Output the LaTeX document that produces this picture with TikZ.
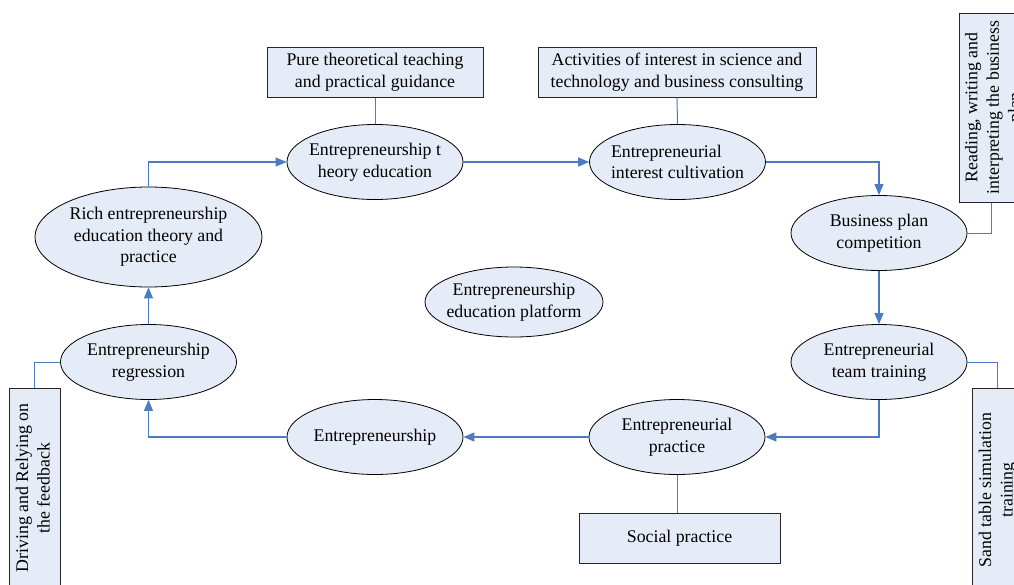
\documentclass[tikz,border=0pt]{standalone}
\usepackage{fontspec}
\setmainfont{Liberation Serif}
\usetikzlibrary{shapes.geometric,arrows.meta}
\definecolor{fillc}{HTML}{E6ECF7}
\definecolor{linec}{HTML}{4A7CC4}
\begin{document}
\begin{tikzpicture}[x=1pt,y=-1pt,
  font=\fontsize{17.8}{21.5}\selectfont,
  ell/.style={ellipse,draw=black,fill=fillc,line width=0.8pt,
    inner xsep=-20pt,inner ysep=-5pt,align=center,
    minimum width=176pt,minimum height=75pt},
  box/.style={rectangle,draw=black!85,fill=fillc,line width=1pt,
    inner sep=0pt,align=center},
  flow/.style={draw=linec,line width=1.1pt,-{Triangle[length=11pt,width=9pt]}},
  link/.style={draw=linec,line width=1pt}]
\useasboundingbox (0,0) rectangle (1014,584);
\clip (0,0) rectangle (1014,584);
\fill[white] (0,0) rectangle (1014,584);

% ellipses
\node[ell] (e1) at (375,162) {Entrepreneurship t\\heory education};
\node[ell,align=left] (e2) at (677.5,162) {Entrepreneurial\\interest cultivation};
\node[ell] (e3) at (879,233) {Business plan\\competition};
\node[ell] (e4) at (879,362) {Entrepreneurial\\team training};
\node[ell] (e5) at (677,437) {Entrepreneurial\\practice};
\node[ell] (e6) at (375,437) {Entrepreneurship};
\node[ell] (e7) at (148.5,362) {Entrepreneurship\\regression};
\node[ell,minimum width=227pt,minimum height=100pt] (e8) at (148.5,237) {Rich entrepreneurship\\education theory and\\practice};
\node[ell,minimum width=178pt,minimum height=70pt] (e9) at (514,302) {Entrepreneurship\\education platform};

% boxes
\node[box,minimum width=216pt,minimum height=50pt] (b1) at (375,72) {Pure theoretical teaching\\and practical guidance};
\node[box,minimum width=278pt,minimum height=50pt] (b2) at (677,72) {Activities of interest in science and\\technology and business consulting};
\node[box,minimum width=201pt,minimum height=50pt] (b6) at (679.5,538) {Social practice};
\node[box,minimum width=71pt,minimum height=189pt] (b3) at (994.5,107.5)
  {\rotatebox{90}{\begin{tabular}{@{}c@{}}Reading, writing and\\interpreting the business\\plan\end{tabular}}};
\node[box,minimum width=51pt,minimum height=204pt] (b4) at (997.5,490)
  {\rotatebox{90}{\begin{tabular}{@{}c@{}}Sand table simulation\\training\end{tabular}}};
\node[box,minimum width=51pt,minimum height=200pt] (b5) at (34.5,488)
  {\rotatebox{90}{\begin{tabular}{@{}c@{}}Driving and Relying on\\the feedback\end{tabular}}};

% flow arrows
\draw[flow] (e8.north) |- (e1.west);
\draw[flow] (e1.east) -- (e2.west);
\draw[flow] (e2.east) -| (e3.north);
\draw[flow] (e3.south) -- (e4.north);
\draw[flow] (e4.south) |- (e5.east);
\draw[flow] (e5.west) -- (e6.east);
\draw[flow] (e6.west) -| (e7.south);
\draw[flow] (e7.north) -- (e8.south);

% links to boxes
\draw[link] (b1.south) -- (e1.north);
\draw[link] (b2.south) -- (e2.north);
\draw[link] (e5.south) -- (e5.south |- b6.north);
\draw[link] (e3.east) -| ([xshift=-3.5pt]b3.south);
\draw[link] (e4.east) -| (b4.north);
\draw[link] (e7.west) -| (b5.north);
\end{tikzpicture}
\end{document}
